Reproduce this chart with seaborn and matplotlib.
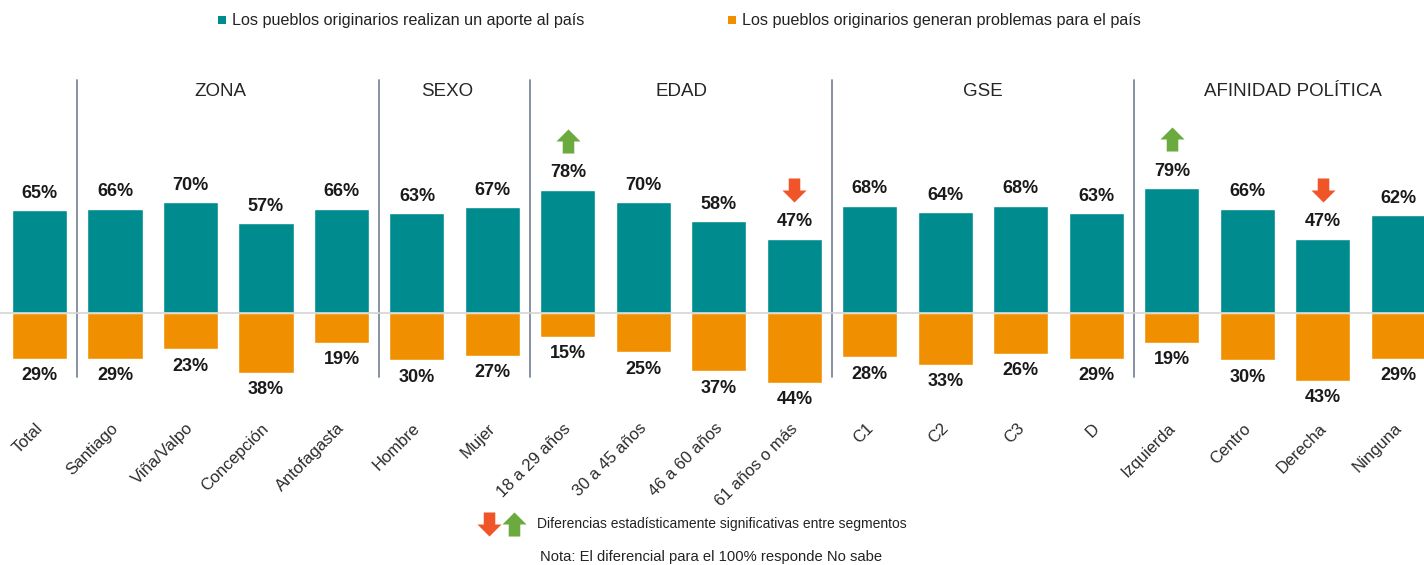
import matplotlib.pyplot as plt
import seaborn as sns
import pandas as pd
from matplotlib.path import Path

categorias = ['Total', 'Santiago', 'Viña/Valpo', 'Concepción', 'Antofagasta',
              'Hombre', 'Mujer', '18 a 29 años', '30 a 45 años', '46 a 60 años',
              '61 años o más', 'C1', 'C2', 'C3', 'D',
              'Izquierda', 'Centro', 'Derecha', 'Ninguna']
aporte = [65, 66, 70, 57, 66, 63, 67, 78, 70, 58, 47, 68, 64, 68, 63, 79, 66, 47, 62]
problemas = [29, 29, 23, 38, 19, 30, 27, 15, 25, 37, 44, 28, 33, 26, 29, 19, 30, 43, 29]
grupos = ['ZONA', 'SEXO', 'EDAD', 'GSE', 'AFINIDAD POLÍTICA']
grupo_centro = [2.4, 5.4, 8.5, 12.5, 16.6]
separadores = [0.5, 4.5, 6.5, 10.5, 14.5]
sube = ['18 a 29 años', 'Izquierda']
baja = ['61 años o más', 'Derecha']

serie_a = 'Los pueblos originarios realizan un aporte al país'
serie_p = 'Los pueblos originarios generan problemas para el país'
TEAL = '#008b8f'
NARANJA = '#f09000'
VERDE = '#6aaa3f'
ROJO = '#f0552a'

sns.set_style('white')
plt.rcParams['font.family'] = ['Liberation Sans', 'DejaVu Sans']

df = pd.concat([
    pd.DataFrame({'cat': categorias, 'val': aporte, 'serie': serie_a}),
    pd.DataFrame({'cat': categorias, 'val': [-v for v in problemas], 'serie': serie_p}),
])

fig = plt.figure(figsize=(14.24, 5.65), dpi=100)
ax = fig.add_axes([0, 0, 1, 1])
sns.barplot(data=df, x='cat', y='val', hue='serie', order=categorias,
            palette={serie_a: TEAL, serie_p: NARANJA}, dodge=False, saturation=1,
            width=0.73, legend=False, ax=ax, zorder=2)
ax.set_xlim(-0.523, 18.34)
ax.set_ylim(-159.5, 198.1)
ax.axis('off')

ax.axhline(0, color='#d4d4d4', lw=1.2, zorder=3)
for s in separadores:
    ax.plot([s, s], [-40.5, 147.5], color='#7d889a', lw=1.3, zorder=1)

for i, (a, p) in enumerate(zip(aporte, problemas)):
    ax.annotate(f'{a}%', (i, a), xytext=(0, 6), textcoords='offset points',
                ha='center', va='bottom', fontsize=13, fontweight='bold', color='#1a1a1a')
    ax.annotate(f'{p}%', (i, -p), xytext=(0, -6), textcoords='offset points',
                ha='center', va='top', fontsize=13, fontweight='bold', color='#1a1a1a')
    ax.text(i + 0.01, -71.5, categorias[i], rotation=45, rotation_mode='anchor',
            ha='right', va='center', fontsize=12, color='#2b2b2b')

for g, x in zip(grupos, grupo_centro):
    ax.text(x, 140, g, ha='center', va='center', fontsize=13.5, color='#262626')

flecha_up = Path([(-0.5, 0), (0, 0.5), (0.5, 0), (0.24, 0), (0.24, -0.5),
                  (-0.24, -0.5), (-0.24, 0), (-0.5, 0)],
                 [Path.MOVETO] + [Path.LINETO] * 6 + [Path.CLOSEPOLY])
flecha_down = Path([(x, -y) for x, y in flecha_up.vertices], flecha_up.codes)

for c in sube:
    i = categorias.index(c)
    ax.scatter([i], [aporte[i] + 31], marker=flecha_up, s=300, color=VERDE,
               linewidths=0, zorder=4)
for c in baja:
    i = categorias.index(c)
    ax.scatter([i], [aporte[i] + 31], marker=flecha_down, s=300, color=ROJO,
               linewidths=0, zorder=4)

# leyenda superior
ley_y = 1 - 20 / 565
for x0, col, txt in [(222, TEAL, serie_a), (732, NARANJA, serie_p)]:
    ax.scatter([x0 / 1424], [ley_y], marker='s', s=36, color=col,
               transform=ax.transAxes, linewidths=0)
    ax.text((x0 + 10) / 1424, ley_y, txt, transform=ax.transAxes,
            ha='left', va='center', fontsize=11.6, color='#222222')

# nota al pie
pie_y = 1 - 524 / 565
ax.scatter([489 / 1424], [pie_y], marker=flecha_down, s=300, color=ROJO,
           transform=ax.transAxes, linewidths=0)
ax.scatter([514 / 1424], [pie_y], marker=flecha_up, s=300, color=VERDE,
           transform=ax.transAxes, linewidths=0)
ax.text(537 / 1424, pie_y, 'Diferencias estadísticamente significativas entre segmentos',
        transform=ax.transAxes, ha='left', va='center', fontsize=10, color='#222222')
ax.text(711 / 1424, 1 - 557 / 565, 'Nota: El diferencial para el 100% responde No sabe',
        transform=ax.transAxes, ha='center', va='center', fontsize=10.6, color='#222222')

fig.savefig('out.png', dpi=100)
